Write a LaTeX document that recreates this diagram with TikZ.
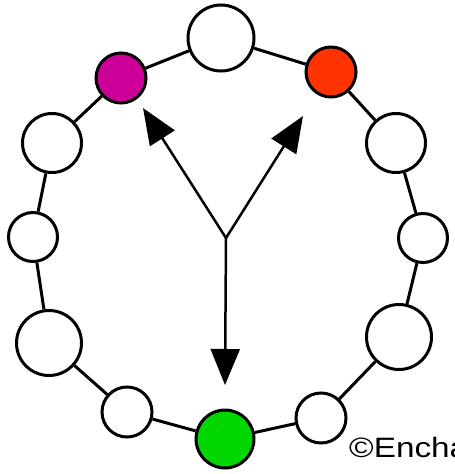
\documentclass[tikz,border=0pt]{standalone}
\usepackage{fontspec}
\setmainfont{Liberation Sans}
\usetikzlibrary{arrows.meta}
\definecolor{magentab}{RGB}{204,0,153}
\definecolor{orangeb}{RGB}{255,51,0}
\definecolor{greenb}{RGB}{0,215,0}
\tikzset{
  bead/.style={circle,draw=black,line width=3pt,fill=white,inner sep=0pt},
  link/.style={line width=3pt,black},
  pointer/.style={line width=2.5pt,black,-{Triangle[length=36pt,width=29pt]}}
}
\begin{document}
\begin{tikzpicture}[x=1pt,y=-1pt]
\useasboundingbox (0,0) rectangle (455,474);
\clip (0,0) rectangle (455,474);
% beads
\node[bead,minimum size=66pt] (t) at (221,38) {};
\node[bead,minimum size=50pt,fill=magentab] (m) at (121,78) {};
\node[bead,minimum size=50pt,fill=orangeb] (o) at (331,72) {};
\node[bead,minimum size=59pt] (l2) at (52,143) {};
\node[bead,minimum size=59pt] (r2) at (396,143) {};
\node[bead,minimum size=49pt] (l3) at (33,237) {};
\node[bead,minimum size=49pt] (r3) at (423,238) {};
\node[bead,minimum size=65pt] (l4) at (49,343) {};
\node[bead,minimum size=65pt] (r4) at (399,337) {};
\node[bead,minimum size=50pt] (l5) at (127,412) {};
\node[bead,minimum size=50pt] (r5) at (321,418) {};
\node[bead,minimum size=58pt,fill=greenb] (g) at (225,439) {};
% links
\draw[link] (t) -- (m);
\draw[link] (t) -- (o);
\draw[link] (m) -- (l2);
\draw[link] (l2) -- (l3);
\draw[link] (l3) -- (l4);
\draw[link] (l4) -- (l5);
\draw[link] (l5) -- (g);
\draw[link] (g) -- (r5);
\draw[link] (r5) -- (r4);
\draw[link] (r4) -- (r3);
\draw[link] (r3) -- (r2);
\draw[link] (r2) -- (o);
% arrows
\coordinate (c) at (226,238);
\coordinate (pl) at (143,108);
\coordinate (pr) at (303,116);
\coordinate (pd) at (225,385);
\draw[pointer] (c) -- (pl);
\draw[pointer] (c) -- (pr);
\draw[pointer] (c) -- (pd);
% credit
\node[anchor=base west,inner sep=0pt,font=\fontsize{28}{28}\selectfont,xscale=1.19] (cr) at (349,457) {©Encha};
\end{tikzpicture}
\end{document}
